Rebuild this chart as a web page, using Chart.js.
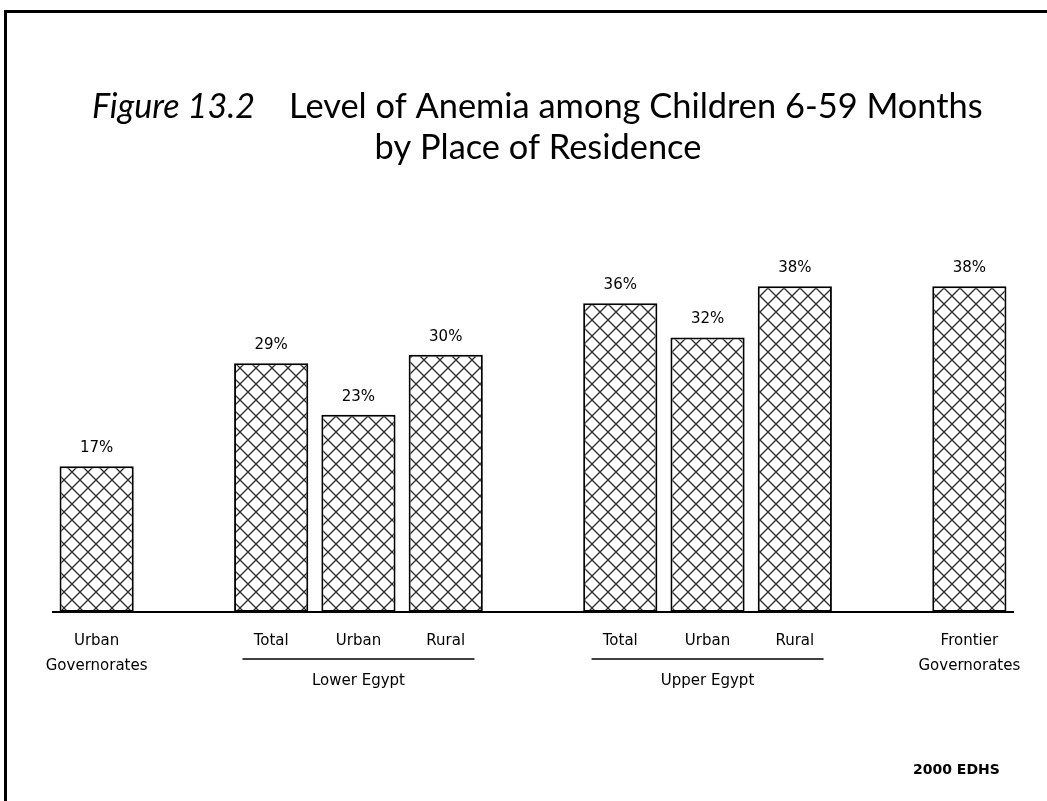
<!DOCTYPE html>
<html><head><meta charset="utf-8">
<script src="https://cdn.jsdelivr.net/npm/chart.js@4.4.1/dist/chart.umd.min.js"></script>
<style>html,body{margin:0;padding:0;background:#fff;overflow:hidden}#wrap{width:1047px;height:801px;position:relative}</style>
</head><body><div id="wrap"><canvas id="c"></canvas></div>
<script>
// ---- data ----
const categories = [['Urban','Governorates'], '', 'Total', 'Urban', 'Rural', '', 'Total', 'Urban', 'Rural', '', ['Frontier','Governorates']];
const values = [17, null, 29, 23, 30, null, 36, 32, 38, null, 38];
const groupLabels = ['Lower Egypt', 'Upper Egypt'];
const groupStart = [2, 6];
const groupEnd = [4, 8];
const titleItalic = 'Figure 13.2';
const titleLine1 = 'Level of Anemia among Children 6-59 Months';
const titleLine2 = 'by Place of Residence';
const sourceNote = '2000 EDHS';

// ---- hatch pattern ----
function makeHatch() {
  const s = 16;
  const pc = document.createElement('canvas');
  pc.width = s; pc.height = s;
  const g = pc.getContext('2d');
  g.fillStyle = '#fff'; g.fillRect(0, 0, s, s);
  g.strokeStyle = '#2a2a2a'; g.lineWidth = 1.3;
  g.beginPath();
  g.moveTo(-2, -2); g.lineTo(s + 2, s + 2);
  g.moveTo(s + 2, -2); g.lineTo(-2, s + 2);
  g.stroke();
  return g.createPattern(pc, 'repeat');
}

const LABEL_FONT = '"DejaVu Sans", sans-serif';

function fitSize(ctx, text, style, fam, target) {
  ctx.font = `${style} 30px ${fam}`;
  return 30 * target / ctx.measureText(text).width;
}

const decorPlugin = {
  id: 'decor',
  beforeDraw(chart) {
    const ctx = chart.ctx;
    ctx.save();
    ctx.fillStyle = '#fff';
    ctx.fillRect(0, 0, chart.width, chart.height);
    ctx.fillStyle = '#000';
    ctx.fillRect(4, 10, 3, chart.height - 10);
    ctx.fillRect(4, 10, chart.width - 4, 3);
    // title
    const fam = 'Lato, "Open Sans", sans-serif';
    const sItal = fitSize(ctx, titleItalic, 'italic', fam, 163);
    const sMain = fitSize(ctx, titleLine1, 'normal', fam, 694);
    ctx.textBaseline = 'alphabetic';
    ctx.textAlign = 'left';
    ctx.fillStyle = '#000';
    ctx.font = `italic ${sItal}px ${fam}`;
    ctx.fillText(titleItalic, 92, 118);
    ctx.font = `normal ${sMain}px ${fam}`;
    ctx.fillText(titleLine1, 289, 118);
    ctx.textAlign = 'center';
    ctx.fillText(titleLine2, 538, 159);
    // source
    ctx.font = `bold 14px ${LABEL_FONT}`;
    ctx.textAlign = 'left';
    ctx.textBaseline = 'middle';
    ctx.fillText(sourceNote, 913, 770);
    ctx.restore();
  },
  afterDraw(chart) {
    const ctx = chart.ctx;
    const xs = chart.scales.x;
    ctx.save();
    ctx.fillStyle = '#000';
    ctx.strokeStyle = '#000';
    ctx.lineWidth = 1.5;
    ctx.font = `15px ${LABEL_FONT}`;
    ctx.textAlign = 'center';
    ctx.textBaseline = 'middle';
    for (let i = 0; i < groupLabels.length; i++) {
      const c0 = xs.getPixelForValue(groupStart[i]);
      const c1 = xs.getPixelForValue(groupEnd[i]);
      const mid = (c0 + c1) / 2;
      ctx.beginPath();
      ctx.moveTo(mid - 116, 659);
      ctx.lineTo(mid + 116, 659);
      ctx.stroke();
      ctx.fillText(groupLabels[i], mid, 681);
    }
    // value labels
    const meta = chart.getDatasetMeta(0);
    ctx.font = `15px ${LABEL_FONT}`;
    meta.data.forEach((bar, i) => {
      if (values[i] == null) return;
      ctx.fillText(values[i] + '%', bar.x, bar.y - 18);
    });
    ctx.restore();
  }
};

new Chart(document.getElementById('c'), {
  type: 'bar',
  data: {
    labels: categories,
    datasets: [{
      data: values,
      backgroundColor: makeHatch(),
      borderColor: '#000',
      borderWidth: 2,
      borderSkipped: false,
      categoryPercentage: 1,
      barPercentage: 0.85
    }]
  },
  options: {
    responsive: true,
    maintainAspectRatio: false,
    animation: false,
    devicePixelRatio: 1,
    layout: { padding: { left: 53, right: 34, top: 269, bottom: 0 } },
    plugins: { legend: { display: false }, tooltip: { enabled: false }, title: { display: false } },
    scales: {
      y: { display: false, min: 0, max: 40 },
      x: {
        grid: { display: false, drawTicks: false },
        border: { display: true, color: '#000', width: 2 },
        ticks: {
          color: '#000',
          padding: 16,
          maxRotation: 0,
          autoSkip: false,
          font: { family: '"DejaVu Sans", sans-serif', size: 15, lineHeight: 1.7 }
        },
        afterFit(s) { s.height = 189; s.paddingLeft = 0; s.paddingRight = 0; }
      }
    }
  },
  plugins: [decorPlugin]
});
</script>
</body></html>
